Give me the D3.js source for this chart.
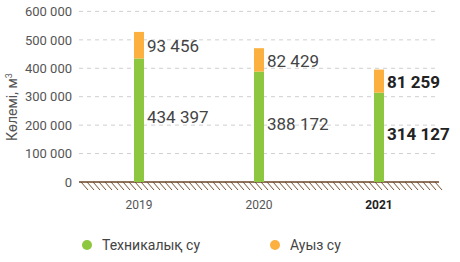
<!DOCTYPE html>
<html>
<head>
<meta charset="utf-8">
<script src="https://cdn.jsdelivr.net/npm/d3@7"></script>
<style>
body { margin: 0; background: #fff; }
svg { font-family: Roboto, "Noto Sans", sans-serif; }
</style>
</head>
<body>
<svg></svg>
<script>
var years = ["2019", "2020", "2021"]
var technical = [434397, 388172, 314127]
var drinking = [93456, 82429, 81259]
var yTicks = [0, 100000, 200000, 300000, 400000, 500000, 600000]
var seriesNames = ["Техникалық су", "Ауыз су"]
var colors = ["#8dc63f", "#fbb040"]

var screen = {width: 460, height: 262}
var plot = {left: 79, right: 439, top: 11, bottom: 182}

var svg = d3.select("svg")
    .attr("width", screen.width)
    .attr("height", screen.height)

var xScale = d3.scaleBand()
    .domain(years)
    .range([plot.left, plot.right])
var yScale = d3.scaleLinear()
    .domain([0, 600000])
    .range([plot.bottom, plot.top + 0.4])

var fmt = function(v) { return d3.format(",")(v).replace(/,/g, " ") }

// gridlines
svg.append("g")
    .selectAll("line")
    .data(yTicks.slice(1))
    .enter()
    .append("line")
    .attr("x1", plot.left)
    .attr("x2", plot.right - 2)
    .attr("y1", function(d) { return yScale(d) })
    .attr("y2", function(d) { return yScale(d) })
    .attr("stroke", "#cfcfcf")
    .attr("stroke-dasharray", "4,4")

// y axis labels
var yAxis = d3.axisLeft(yScale)
    .tickValues(yTicks)
    .tickFormat(fmt)
    .tickSize(0)
    .tickPadding(7)
svg.append("g")
    .attr("transform", "translate(" + plot.left + ",0)")
    .call(yAxis)
    .call(function(g) { g.select(".domain").remove() })
    .selectAll("text")
    .attr("font-size", 13)
    .attr("fill", "#555")
    .attr("font-family", "Roboto")

svg.append("text")
    .attr("transform", "translate(17,107) rotate(-90)")
    .attr("text-anchor", "middle")
    .attr("font-size", 14)
    .attr("fill", "#555")
    .html("Көлемі, м<tspan dy='-5' font-size='9'>3</tspan>")

// ground hatch
var hatch = svg.append("g")
var hx = d3.range(plot.left + 2, plot.right - 2, 6)
hatch.selectAll("line")
    .data(hx)
    .enter()
    .append("line")
    .attr("x1", function(d) { return d })
    .attr("x2", function(d) { return d + 7 })
    .attr("y1", plot.bottom)
    .attr("y2", plot.bottom + 8)
    .attr("stroke", "#7a5533")
    .attr("stroke-width", 1)
svg.append("line")
    .attr("x1", plot.left)
    .attr("x2", plot.right)
    .attr("y1", plot.bottom)
    .attr("y2", plot.bottom)
    .attr("stroke", "#6b4526")
    .attr("stroke-width", 1.5)

// bars
var barW = 10
years.forEach(function(y, i) {
    var cx = xScale(y) + xScale.bandwidth() / 2
    var bold = i == years.length - 1
    var segs = [
        {v0: 0, v1: technical[i], c: colors[0], val: technical[i], dy: -3},
        {v0: technical[i], v1: technical[i] + drinking[i], c: colors[1], val: drinking[i], dy: 1}
    ]
    svg.append("g")
        .selectAll("rect")
        .data(segs)
        .enter()
        .append("rect")
        .attr("x", cx - barW / 2)
        .attr("width", barW)
        .attr("y", function(d) { return yScale(d.v1) })
        .attr("height", function(d) { return yScale(d.v0) - yScale(d.v1) })
        .attr("fill", function(d) { return d.c })
    svg.append("g")
        .selectAll("text")
        .data(segs)
        .enter()
        .append("text")
        .attr("x", cx + barW / 2 + 3)
        .attr("y", function(d) { return (yScale(d.v0) + yScale(d.v1)) / 2 + d.dy })
        .attr("dominant-baseline", "central")
        .attr("font-size", 17)
        .attr("font-weight", bold ? 700 : 400)
        .attr("fill", bold ? "#222" : "#444")
        .text(function(d) { return fmt(d.val) })
    svg.append("text")
        .attr("x", cx)
        .attr("y", 209)
        .attr("text-anchor", "middle")
        .attr("font-size", 12)
        .attr("font-weight", bold ? 700 : 400)
        .attr("fill", bold ? "#222" : "#555")
        .text(y)
})

// legend
var legendX = [87, 275]
var legend = svg.append("g")
    .selectAll("g")
    .data(seriesNames)
    .enter()
    .append("g")
    .attr("transform", function(d, i) { return "translate(" + legendX[i] + ",245)" })
legend.append("circle")
    .attr("r", 5)
    .attr("fill", function(d, i) { return colors[i] })
legend.append("text")
    .attr("x", 15)
    .attr("dominant-baseline", "central")
    .attr("font-size", 14)
    .attr("fill", "#444")
    .text(function(d) { return d })
</script>
</body>
</html>
